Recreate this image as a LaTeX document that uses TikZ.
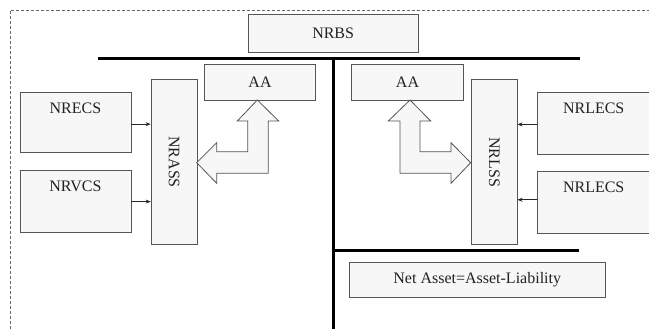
\documentclass[tikz,border=0pt]{standalone}
\usepackage{fontspec}
\setmainfont{Liberation Serif}
\usetikzlibrary{arrows.meta}
\definecolor{boxfill}{HTML}{F7F7F7}
\definecolor{boxline}{HTML}{555555}
\definecolor{txt}{HTML}{222222}
\tikzset{
  box/.style={draw=boxline, fill=boxfill, line width=0.8pt, inner sep=0pt, anchor=north west, text=txt, font=\fontsize{16}{18}\selectfont},
  toplabel/.style={label={[anchor=north, inner sep=0pt, yshift=-11pt, text=txt, font=\fontsize{16}{18}\selectfont]north:#1}},
  bar/.style={line width=2.6pt, black},
  feed/.style={line width=0.7pt, draw=black!85, -{Stealth[length=5pt,width=4pt]}},
  blockarrow/.style={draw=boxline, fill=boxfill, line width=0.8pt, line join=miter},
  frame/.style={draw=black!60, line width=0.6pt, dash pattern=on 3pt off 2pt}
}
\begin{document}
\begin{tikzpicture}[x=1pt,y=-1pt]
\useasboundingbox (0,0) rectangle (649,329);
% dashed frame (only top and left visible)
\draw[frame] (10.5,329) -- (10.5,10) -- (649,10);
% top box
\node[box, minimum width=170.5pt, minimum height=37.7pt] (nrbs) at (247.5,14) {NRBS};
% thick bars
\coordinate (hl) at (98,58.3);
\coordinate (hr) at (579.5,58.3);
\coordinate (vt) at (333.5,58.3);
\coordinate (vb) at (333.5,329);
\coordinate (ml) at (333.5,250.7);
\coordinate (mr) at (579.3,250.7);
\draw[bar] (hl) -- (hr);
\draw[bar] (vt) -- (vb);
\draw[bar] (ml) -- (mr);
% AA boxes
\node[box, minimum width=111.3pt, minimum height=35.7pt] (aal) at (204,64) {AA};
\node[box, minimum width=112.3pt, minimum height=35.7pt] (aar) at (351,64) {AA};
% side columns
\node[box, minimum width=46pt, minimum height=164.7pt] (nrass) at (150.7,79.3) {};
\node[rotate=-90, text=txt, font=\fontsize{16}{18}\selectfont] (nrasst) at (nrass.center) {NRASS};
\node[box, minimum width=45.7pt, minimum height=165pt] (nrlss) at (471,79.3) {};
\node[rotate=-90, text=txt, font=\fontsize{16}{18}\selectfont] (nrlsst) at (nrlss.center) {NRLSS};
% left input boxes
\node[box, minimum width=111pt, minimum height=60.5pt, toplabel=NRECS] (nrecs) at (19.5,92) {};
\node[box, minimum width=111pt, minimum height=62pt, toplabel=NRVCS] (nrvcs) at (19.5,170.2) {};
% right input boxes
\node[box, minimum width=112pt, minimum height=62pt, toplabel=NRLECS] (nrlecs1) at (537.3,92) {};
\node[box, minimum width=112pt, minimum height=61.7pt, toplabel=NRLECS] (nrlecs2) at (537.3,171) {};
% feeding arrows
\draw[feed] ([yshift=-1.5pt]nrecs.east) -- ([yshift=-1.5pt]nrecs.east -| nrass.west);
\draw[feed] (nrvcs.east) -- (nrvcs.east -| nrass.west);
\draw[feed] ([yshift=-1pt]nrlecs1.west) -- ([yshift=-1pt]nrlecs1.west -| nrlss.east);
\draw[feed] ([yshift=2.5pt]nrlecs2.west) -- ([yshift=2.5pt]nrlecs2.west -| nrlss.east);
% block arrows
\draw[blockarrow] (257.3,100) -- (278.7,121) -- (268.3,121) -- (268.3,173.3) -- (216.7,173.3) -- (216.7,183.3) -- (196.7,162.7) -- (216.7,142.7) -- (216.7,151.7) -- (247.7,151.7) -- (247.7,121) -- (237.3,121) -- cycle;
\draw[blockarrow] (410,100) -- (430.7,121) -- (420,121) -- (420,151.7) -- (451,151.7) -- (451,142.7) -- (470.7,162.7) -- (451,183.3) -- (451,173.3) -- (400,173.3) -- (400,121) -- (388.3,121) -- cycle;
% net asset box
\node[box, minimum width=256.3pt, minimum height=35.3pt] (net) at (348.7,261.7) {Net Asset=Asset-Liability};
\end{tikzpicture}
\end{document}
